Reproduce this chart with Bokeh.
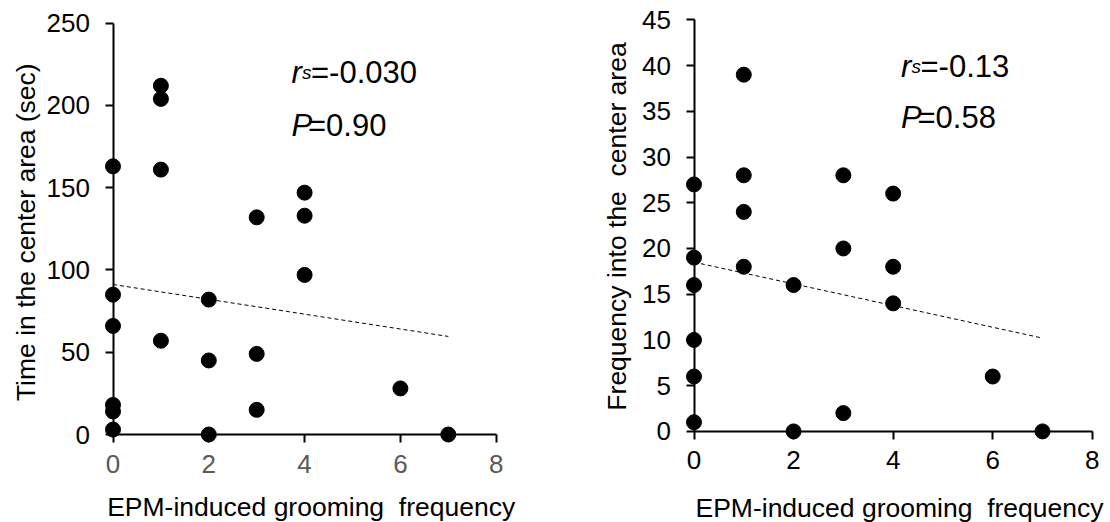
import math
from bokeh.plotting import figure
from bokeh.layouts import row
from bokeh.models import Range1d, FixedTicker, Label
from bokeh.embed import file_html
from bokeh.resources import INLINE

FONT = "Liberation Sans"

# ---------------- data ----------------
x_title = "EPM-induced grooming\u00a0 frequency"
x_ticks = [0, 2, 4, 6, 8]

# left panel: time in the center area
left_title = "Time in the center area (sec)"
left_x = [0, 0, 0, 0, 0, 0, 1, 1, 1, 1, 2, 2, 2, 3, 3, 3, 4, 4, 4, 6, 7]
left_y = [163, 85, 66, 18, 14, 3, 212, 204, 161, 57, 82, 45, 0, 132, 49, 15, 147, 133, 97, 28, 0]
left_trend_x = [0, 7]
left_trend_y = [91.2, 59.6]
left_y_ticks = [0, 50, 100, 150, 200, 250]
left_rs = "=-0.030"
left_p = "=0.90"

# right panel: frequency into the center area
right_title = "Frequency into the\u00a0 center area"
right_x = [0, 0, 0, 0, 0, 0, 1, 1, 1, 1, 2, 2, 3, 3, 3, 4, 4, 4, 6, 7]
right_y = [27, 19, 16, 10, 6, 1, 39, 28, 24, 18, 16, 0, 28, 20, 2, 26, 18, 14, 6, 0]
right_trend_x = [0, 7]
right_trend_y = [18.5, 10.2]
right_y_ticks = [0, 5, 10, 15, 20, 25, 30, 35, 40, 45]
right_rs = "=-0.13"
right_p = "=0.58"

FIG_H = 522


def panel(xs, ys, tx, ty, yticks, ytitle, geo, xtick_color, rs_text, p_text):
    fig_left, fig_w = geo["fig_left"], geo["fig_w"]
    ax_x, x8 = geo["axis_x"], geo["x8_px"]
    ytop, y0 = geo["ytop_px"], geo["y0_px"]
    ppx = (x8 - ax_x) / 8.0
    ppy = (y0 - ytop) / float(yticks[-1])
    x_start = (fig_left - ax_x) / ppx
    x_end = x_start + fig_w / ppx
    y_end = y0 / ppy
    y_start = y_end - FIG_H / ppy

    def dx(px):
        return (px - ax_x) / ppx

    def dy(py):
        return (y0 - py) / ppy

    p = figure(frame_width=fig_w, frame_height=FIG_H,
               x_range=Range1d(x_start, x_end), y_range=Range1d(y_start, y_end),
               output_backend="svg", toolbar_location=None,
               min_border_left=0, min_border_right=0,
               min_border_top=0, min_border_bottom=0,
               background_fill_color="white", border_fill_color="white")
    p.outline_line_color = None
    p.xgrid.visible = False
    p.ygrid.visible = False

    for ax in (p.xaxis[0], p.yaxis[0]):
        ax.fixed_location = 0
        ax.axis_line_width = 2
        ax.axis_line_color = "black"
        ax.major_tick_line_width = 2
        ax.major_tick_line_color = "black"
        ax.major_tick_out = 8
        ax.major_tick_in = 0
        ax.minor_tick_out = 0
        ax.minor_tick_in = 0
        ax.major_label_text_font = FONT
        ax.major_label_text_font_size = "26px"

    xa = p.xaxis[0]
    xa.ticker = FixedTicker(ticks=x_ticks)
    xa.bounds = (0, 8)
    xa.major_label_text_color = xtick_color
    xa.major_label_standoff = 12

    ya = p.yaxis[0]
    ya.ticker = FixedTicker(ticks=yticks)
    ya.bounds = (0, yticks[-1])
    ya.major_label_text_color = "black"
    ya.major_label_standoff = 15

    p.line(tx, ty, line_color="black", line_width=1, line_dash="4 3")
    p.scatter(xs, ys, size=15, fill_color="black", line_color="black")

    common = dict(text_font=FONT, text_color="black", text_baseline="alphabetic")
    # axis titles
    p.add_layout(Label(x=dx(geo["xt_cx"]), y=dy(geo["xt_base"] - 8), text=x_title,
                       text_font_size="26.5px", text_align="center", **common))
    p.add_layout(Label(x=dx(geo["yt_base"] - 9), y=dy(geo["yt_cy"]), text=ytitle,
                       text_font_size="26.5px", text_align="center",
                       angle=math.pi / 2, **common))

    # statistics
    ax0 = dx(geo["ann_x"])
    b1, b2 = dy(geo["ann_b1"] - 10), dy(geo["ann_b2"] - 10)
    p.add_layout(Label(x=ax0, y=b1, text="r", text_font_style="italic",
                       text_font_size="31px", **common))
    p.add_layout(Label(x=ax0, y=b1, x_offset=10.5, text="s", text_font_style="italic",
                       text_font_size="19px", **common))
    p.add_layout(Label(x=ax0, y=b1, x_offset=19.5, text=rs_text,
                       text_font_size="31px", **common))
    p.add_layout(Label(x=ax0, y=b2, text="P", text_font_style="italic",
                       text_font_size="31px", **common))
    p.add_layout(Label(x=ax0, y=b2, x_offset=16.5, text=p_text,
                       text_font_size="31px", **common))
    return p


left_geo = dict(fig_left=0, fig_w=560, axis_x=112.5, x8_px=495.7, ytop_px=22.7, y0_px=434.0,
                xt_cx=310.7, xt_base=514.0, yt_base=34.0, yt_cy=231.7,
                ann_x=291.0, ann_b1=81.7, ann_b2=135.0)
right_geo = dict(fig_left=560, fig_w=550, axis_x=693.5, x8_px=1091.8, ytop_px=19.3, y0_px=430.9,
                 xt_cx=899.0, xt_base=515.0, yt_base=625.6, yt_cy=226.0,
                 ann_x=900.5, ann_b1=76.0, ann_b2=126.7)

left = panel(left_x, left_y, left_trend_x, left_trend_y, left_y_ticks, left_title,
             left_geo, "#595959", left_rs, left_p)
right = panel(right_x, right_y, right_trend_x, right_trend_y, right_y_ticks, right_title,
              right_geo, "black", right_rs, right_p)

layout = row(left, right)
open("out.html", "w").write(file_html(layout, INLINE))
